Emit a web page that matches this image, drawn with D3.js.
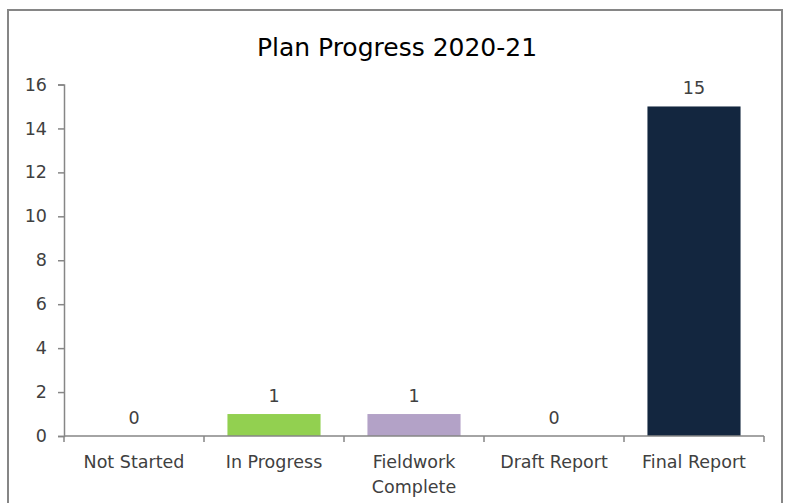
<!DOCTYPE html>
<html>
<head>
<meta charset="utf-8">
<script src="https://cdn.jsdelivr.net/npm/d3@7"></script>
<style>
  html, body { margin: 0; padding: 0; background: #fff; }
  svg { display: block; font-family: "DejaVu Sans", sans-serif; }
</style>
</head>
<body>
<svg id="chart" width="792" height="503"></svg>
<script>
// Plan progress counts by status
const categories = ['Not Started', 'In Progress', 'Fieldwork Complete', 'Draft Report', 'Final Report'];
const values = [0, 1, 1, 0, 15];
const barColors = ['#92d050', '#92d050', '#b3a2c7', '#b3a2c7', '#13263f'];
const yTicks = [0, 2, 4, 6, 8, 10, 12, 14, 16];

const width = 792, height = 503;
const margin = { top: 84.5, right: 28, bottom: 67, left: 64 };
const textColor = '#404040';
const axisColor = '#868686';
const labelSize = '17.5px';

const svg = d3.select('#chart');

// Outer chart frame (bottom edge runs off the picture)
svg.append('rect')
  .attr('x', 8).attr('y', 10).attr('width', 774).attr('height', 520)
  .attr('fill', '#fff').attr('stroke', axisColor).attr('stroke-width', 2);

const x = d3.scaleBand().domain(categories)
  .range([margin.left, width - margin.right]).paddingInner(0.335).paddingOuter(0.1675);
const y = d3.scaleLinear().domain([0, 16]).range([height - margin.bottom, margin.top]);

// Title
svg.append('text')
  .attr('x', 397).attr('y', 56)
  .attr('text-anchor', 'middle').attr('fill', '#000').attr('font-size', '25px')
  .text('Plan Progress 2020-21');

// Bars
svg.selectAll('rect.bar').data(categories).join('rect')
  .attr('class', 'bar')
  .attr('x', d => x(d)).attr('width', x.bandwidth())
  .attr('y', (d, i) => y(values[i]))
  .attr('height', (d, i) => y(0) - y(values[i]))
  .attr('fill', (d, i) => barColors[i]);

// Value labels
svg.selectAll('text.val').data(categories).join('text')
  .attr('class', 'val')
  .attr('x', d => x(d) + x.bandwidth() / 2)
  .attr('y', (d, i) => y(values[i]) - 12)
  .attr('text-anchor', 'middle').attr('fill', textColor).attr('font-size', labelSize)
  .text((d, i) => values[i]);

// Y axis
const yAxis = svg.append('g')
  .attr('transform', `translate(${margin.left},0)`)
  .call(d3.axisLeft(y).tickValues(yTicks).tickSize(6).tickSizeOuter(6).tickPadding(11));
yAxis.selectAll('text').attr('fill', textColor).attr('font-size', labelSize).attr('font-family', '"DejaVu Sans", sans-serif');
yAxis.selectAll('.domain, .tick line').attr('stroke', axisColor).attr('stroke-width', 1.5);

// X axis: ticks sit on category boundaries
const xg = svg.append('g').attr('transform', `translate(0,${y(0)})`);
xg.append('line')
  .attr('x1', margin.left).attr('x2', width - margin.right)
  .attr('stroke', axisColor).attr('stroke-width', 1.5);
const step = x.step();
const bounds = categories.map(c => x(c) - x.paddingOuter() * step).concat([width - margin.right]);
xg.selectAll('line.tk').data(bounds).join('line')
  .attr('class', 'tk')
  .attr('x1', d => d).attr('x2', d => d).attr('y1', 0).attr('y2', 6)
  .attr('stroke', axisColor).attr('stroke-width', 1.5);

// Category labels (wrapped)
const lab = xg.selectAll('text.cat').data(categories).join('text')
  .attr('class', 'cat')
  .attr('text-anchor', 'middle').attr('fill', textColor).attr('font-size', labelSize);
lab.each(function (d) {
  const words = d === 'Fieldwork Complete' ? ['Fieldwork', 'Complete'] : [d];
  const t = d3.select(this);
  words.forEach((w, i) => {
    t.append('tspan')
      .attr('x', x(d) + x.bandwidth() / 2)
      .attr('y', 32 + i * 25)
      .text(w);
  });
});
</script>
</body>
</html>
